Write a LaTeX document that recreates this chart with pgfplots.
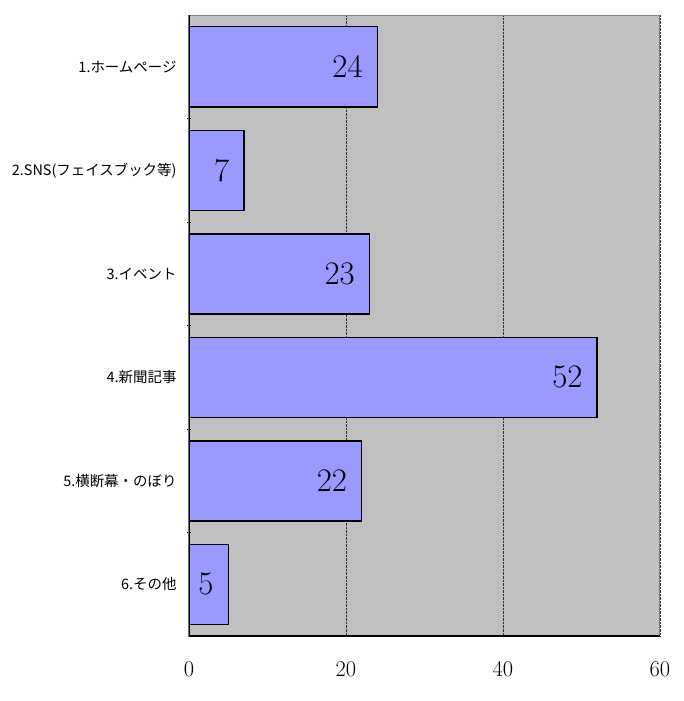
\documentclass[border=0pt]{standalone}
\usepackage{pgfplots}
\pgfplotsset{compat=1.18}
\usepackage{fontspec}
\newfontfamily\jp{Noto Sans CJK JP}
\definecolor{barc}{HTML}{9999FF}
\definecolor{bgc}{HTML}{C0C0C0}
\begin{document}
\begin{tikzpicture}
\begin{axis}[
  /pgf/number format/assume math mode=true,
  xbar,
  width=471bp, height=621bp, scale only axis,
  xmin=0, xmax=60, ymin=0.5, ymax=6.5, y dir=reverse,
  xtick={0,20,40,60},
  ytick={1,2,3,4,5,6},
  yticklabels={1.ホームページ, 2.SNS(フェイスブック等), 3.イベント, 4.新聞記事, 5.横断幕・のぼり, 6.その他},
  minor ytick={1.5,2.5,3.5,4.5,5.5},
  ytick pos=left, xtick pos=bottom,
  major tick length=0pt,
  minor tick length=4bp,
  minor tick style={black, line width=1pt},
  tick align=center,
  axis line style={draw=black!50, line width=1pt},
  axis background/.style={fill=bgc},
  xmajorgrids, major grid style={densely dotted, black!80, line width=0.6pt},
  bar width=80bp,
  yticklabel style={font=\jp\fontsize{14.5}{14.5}\selectfont, xshift=-9bp},
  xticklabel style={font=\fontsize{22.5}{22.5}\selectfont, yshift=-22bp},
  nodes near coords={\pgfmathprintnumber{\pgfplotspointmeta}},
  every node near coord/.append style={anchor=east, inner sep=0pt, xshift=-14bp, font=\fontsize{33}{33}\selectfont, black},
]
\addplot[fill=barc, draw=black, line width=1.5pt] coordinates {(24,1) (7,2) (23,3) (52,4) (22,5) (5,6)};
\draw[black!50, line width=1pt] (axis description cs:0,1) -- (axis description cs:1,1) -- (axis description cs:1,0);
\draw[black, line width=1.2pt] (axis description cs:0,1) -- (axis description cs:0,0) -- (axis description cs:1,0);
\coordinate (ll) at (axis description cs:0,0);
\coordinate (ur) at (axis description cs:1,1);
\end{axis}
\path ([shift={(-189bp,-65bp)}]ll) rectangle ([shift={(24bp,15bp)}]ur);
\end{tikzpicture}
\end{document}
